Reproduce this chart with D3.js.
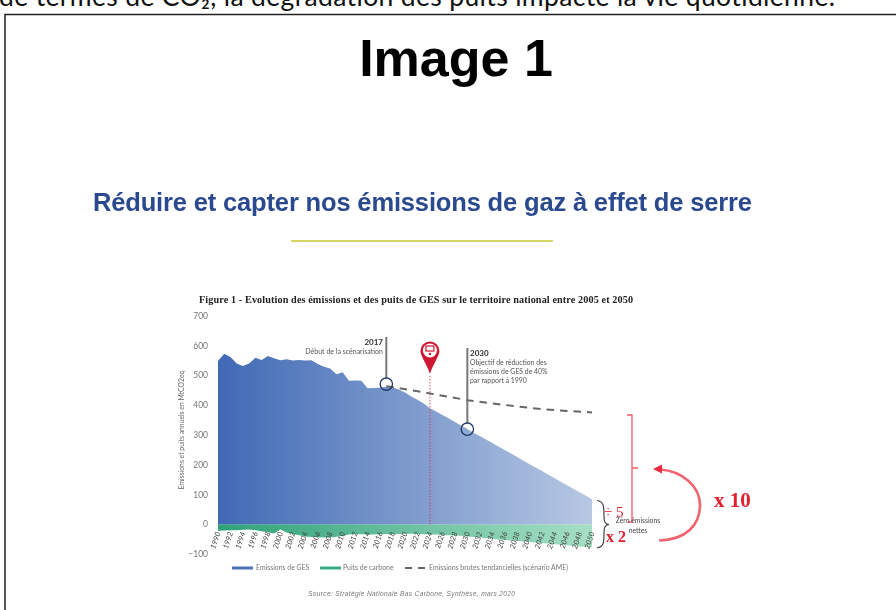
<!DOCTYPE html>
<html>
<head>
<meta charset="utf-8">
<script src="https://cdn.jsdelivr.net/npm/d3@7"></script>
<style>
html,body{margin:0;padding:0;background:#fff;overflow:hidden}
svg{display:block}
</style>
</head>
<body>
<div id="chart"></div>
<script>
// valeurs
const years = d3.range(1990, 2051)
const emissions = [547,572,561,539,531,539,558,551,564,557,550,553,549,551,549,550,537,528,522,503,510,481,482,481,456,457,458,461,459,452,442,428,417,405,389,378,366,355,343,331,319,307,296,284,272,261,249,237,225,213,201,189,178,166,154,142,131,119,107,96,84]
const sinks = [-22,-21,-20,-20,-19,-18,-20,-24,-27,-31,-18,-28,-33,-37,-41,-43,-44,-45,-45,-42,-40,-35,-33,-34,-35,-35,-34,-33,-34,-33,-32,-32,-33,-34,-35,-35,-36,-37,-38,-39,-41,-43,-45,-47,-49,-51,-53,-55,-56,-58,-60,-62,-64,-65,-67,-69,-71,-73,-75,-76,-78]
const trendYears = [2017,2022,2026,2030,2034,2038,2042,2046,2050]
const trendValues = [463,446,431,416,405,395,386,380,375]
const yTicks = [700,600,500,400,300,200,100,0,-100]
const xTicks = years.filter(d => d % 2 === 0)
const legendLabels = ['Emissions de GES','Puits de carbone','Emissions brutes tendancielles (scénario AME)']

const width = 896
const height = 610
const svg = d3.select('#chart').append('svg').attr('width', width).attr('height', height)
const sans = '"Liberation Sans", Arial, sans-serif'
const serif = '"Liberation Serif", "Times New Roman", serif'
const lato = 'Lato, sans-serif'

// flou de la capture d'origine
const defs = svg.append('defs')
defs.append('filter').attr('id', 'soft').attr('x', '-5%').attr('y', '-5%').attr('width', '110%').attr('height', '110%')
  .append('feGaussianBlur').attr('stdDeviation', 0.45)

// page autour de la figure
svg.append('text').text('de termes de CO₂, la dégradation des puits impacte la vie quotidienne.')
  .attr('x', -1).attr('y', 6).attr('textLength', 836).attr('font-family', lato).attr('font-size', 26.5).attr('fill', '#111')
svg.append('rect').attr('x', 5).attr('y', 14.5).attr('width', 920).attr('height', 640)
  .attr('fill', 'none').attr('stroke', '#222').attr('stroke-width', 1.5)
svg.append('text').text('Image 1').attr('x', 456).attr('y', 76).attr('text-anchor', 'middle')
  .attr('font-family', sans).attr('font-weight', 'bold').attr('font-size', 52).attr('fill', '#000')

const slide = svg.append('g').attr('filter', 'url(#soft)')
slide.append('text').text('Réduire et capter nos émissions de gaz à effet de serre')
  .attr('x', 93).attr('y', 211).attr('font-family', sans).attr('font-weight', 'bold').attr('font-size', 25.5)
  .attr('textLength', 659).attr('fill', '#2a4a8e')
slide.append('line').attr('x1', 291).attr('x2', 553).attr('y1', 241).attr('y2', 241)
  .attr('stroke', '#c8c832').attr('stroke-width', 1.5)
slide.append('text').text('Figure 1 - Evolution des émissions et des puits de GES sur le territoire national entre 2005 et 2050')
  .attr('x', 199).attr('y', 303).attr('font-family', serif).attr('font-weight', 'bold').attr('font-size', 10.2)
  .attr('textLength', 434).attr('fill', '#222')

// echelles
const x = d3.scaleLinear().domain([1990, 2050]).range([218, 592])
const y = d3.scaleLinear().domain([-100, 700]).range([554, 315.5])

function gradient(id, from, to){
  const g = defs.append('linearGradient').attr('id', id).attr('gradientUnits', 'userSpaceOnUse')
    .attr('x1', x(1990)).attr('x2', x(2050)).attr('y1', 0).attr('y2', 0)
  g.append('stop').attr('offset', 0).attr('stop-color', from)
  g.append('stop').attr('offset', 1).attr('stop-color', to)
}
gradient('blue', '#4069b5', '#b7c8e3')
gradient('green', '#2ea277', '#a6dfc6')

const area = d3.area().x((d, i) => x(years[i])).y0(y(0))
slide.append('path').datum(sinks).attr('d', area.y1(d => y(d))).attr('fill', 'url(#green)')
slide.append('path').datum(emissions).attr('d', area.y1(d => y(d))).attr('fill', 'url(#blue)')

// axes
const yAxis = slide.append('g').attr('transform', 'translate(208,0)')
  .call(d3.axisLeft(y).tickValues(yTicks).tickSize(0).tickPadding(0))
yAxis.select('.domain').remove()
yAxis.selectAll('text').attr('font-family', lato).attr('font-size', 8.5).attr('fill', '#777')
const xAxis = slide.append('g').attr('transform', `translate(0,${y(0) + 8})`)
  .call(d3.axisBottom(x).tickValues(xTicks).tickFormat(d3.format('d')).tickSize(0).tickPadding(0))
xAxis.select('.domain').remove()
xAxis.selectAll('text').attr('font-family', lato).attr('font-style', 'italic').attr('font-size', 7.5).attr('fill', '#444')
  .attr('text-anchor', 'end').attr('dy', '0.3em').attr('transform', 'rotate(-72)')
slide.append('text').text('Emissions et puits annuels en MtCO2eq')
  .attr('transform', 'translate(184,430) rotate(-90)').attr('text-anchor', 'middle')
  .attr('font-family', lato).attr('font-size', 6.8).attr('fill', '#666')

// tendance et repere 2024
const trend = d3.line().x((d, i) => x(trendYears[i])).y(d => y(d))
slide.append('path').datum(trendValues).attr('d', trend).attr('fill', 'none')
  .attr('stroke', '#666').attr('stroke-width', 2).attr('stroke-dasharray', '7.5 6')
slide.append('line').attr('x1', x(2024)).attr('x2', x(2024)).attr('y1', 376).attr('y2', y(0))
  .attr('stroke', '#d2243c').attr('stroke-width', 0.8).attr('stroke-dasharray', '1.5 1.5')
const pin = slide.append('g').attr('transform', `translate(${x(2024)},0)`)
pin.append('path').attr('d', 'M-9.5,351 A9.5,9.5 0 1 1 9.5,351 C9.5,356 3,364 0,374 C-3,364 -9.5,356 -9.5,351 Z').attr('fill', '#cf1730')
pin.append('circle').attr('cy', 350.5).attr('r', 7).attr('fill', '#fff')
pin.append('rect').attr('x', -4).attr('y', 346).attr('width', 8).attr('height', 5).attr('fill', 'none').attr('stroke', '#cf1730').attr('stroke-width', 1.2)
pin.append('circle').attr('cy', 354).attr('r', 1.3).attr('fill', '#cf1730')

// annotations 2017 et 2030
function marker(year, value, top){
  slide.append('line').attr('x1', x(year)).attr('x2', x(year)).attr('y1', top).attr('y2', y(value) - 5)
    .attr('stroke', '#777').attr('stroke-width', 2)
  slide.append('circle').attr('cx', x(year)).attr('cy', y(value)).attr('r', 6.2).attr('fill', 'none')
    .attr('stroke', '#1f3864').attr('stroke-width', 1.3)
}
marker(2017, 470, 337)
marker(2030, 319, 348)
function note(txt, px, py, anchor, size, bold, fill){
  slide.append('text').text(txt).attr('x', px).attr('y', py).attr('text-anchor', anchor)
    .attr('font-family', lato).attr('font-size', size).attr('font-weight', bold ? 'bold' : 'normal').attr('fill', fill)
}
note('2017', 383, 345, 'end', 8, true, '#333')
note('Début de la scénarisation', 383, 353.5, 'end', 7, false, '#555')
note('2030', 470, 355.5, 'start', 8, true, '#333')
note('Objectif de réduction des', 470, 364.5, 'start', 6.9, false, '#555')
note('émissions de GES de 40%', 470, 373.5, 'start', 6.9, false, '#555')
note('par rapport à 1990', 470, 383, 'start', 6.9, false, '#555')

// legende
const legendX = [256, 343, 429]
legendLabels.forEach((t, i) => note(t, legendX[i], 570, 'start', 6.9, false, '#777'))
slide.append('rect').attr('x', 232).attr('y', 566.5).attr('width', 21).attr('height', 3).attr('fill', '#4a72b8')
slide.append('rect').attr('x', 320).attr('y', 566.5).attr('width', 21).attr('height', 3).attr('fill', '#3aaa80')
slide.append('line').attr('x1', 405).attr('x2', 426).attr('y1', 568).attr('y2', 568)
  .attr('stroke', '#666').attr('stroke-width', 2).attr('stroke-dasharray', '7 6')
slide.append('text').text('Source: Stratégie Nationale Bas Carbone, Synthèse, mars 2020')
  .attr('x', 308).attr('y', 596).attr('font-family', sans).attr('font-style', 'italic').attr('font-size', 6.6)
  .attr('textLength', 207).attr('fill', '#777')

// ajouts en rouge
const red = '#ee2a3c'
slide.append('path').attr('d', 'M627,415 H632 V522 H628 M632,468 H638').attr('fill', 'none').attr('stroke', '#ef5a66').attr('stroke-width', 1.3)
slide.append('path').attr('d', 'M659,540.5 C686,540 700,525 700,505 C700,486 682,471 660,469.5').attr('fill', 'none').attr('stroke', '#f0636e').attr('stroke-width', 2.6)
slide.append('path').attr('d', 'M653,469 L662,464.5 L662,473.5 Z').attr('fill', red)
slide.append('path').attr('d', 'M597,500.5 C604,501 604,507 604,516 C604,522 605,524 609,524.5 C605,525 604,527 604,533 C604,542 604,547 597,548')
  .attr('fill', 'none').attr('stroke', '#444').attr('stroke-width', 1.2)
function redText(t, px, py, size, weight){
  slide.append('text').text(t).attr('x', px).attr('y', py).attr('font-family', serif).attr('font-weight', weight)
    .attr('font-size', size).attr('fill', '#e0202f')
}
redText('x 10', 714, 507, 21, 'bold')
redText('÷ 5', 604, 517, 15, 'normal')
redText('x 2', 606, 542, 16, 'bold')
note('Zéro émissions', 638, 523, 'middle', 6.8, false, '#444')
note('nettes', 638, 533, 'middle', 6.8, false, '#444')
</script>
</body>
</html>
